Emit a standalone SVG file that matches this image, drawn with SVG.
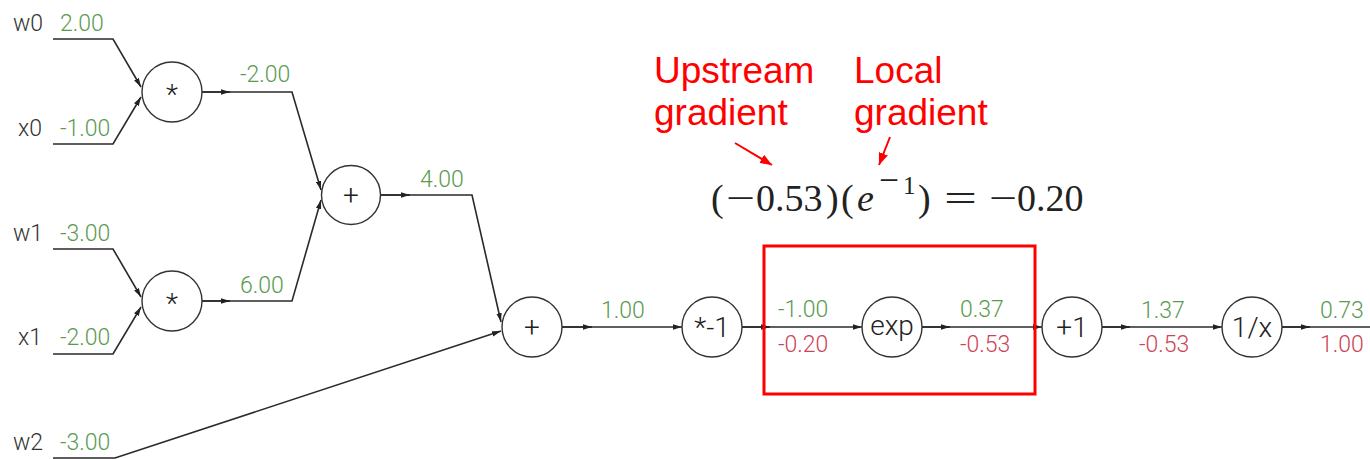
<svg xmlns="http://www.w3.org/2000/svg" width="1370" height="459" viewBox="0 0 1370 459">
<style>
.edge{fill:none;stroke:#2a2a2a;stroke-width:1.6}
.node circle{fill:#fff;stroke:#333;stroke-width:1.4}
.op{font-family:Roboto,"Liberation Sans",sans-serif;font-weight:300;font-size:28px;fill:#222;text-anchor:middle}
.lbl{font-family:Roboto,"Liberation Sans",sans-serif;font-weight:300;font-size:23px}
.val{fill:#5a9a50}
.grad{fill:#cc4455}
.name{fill:#333}
.ann{font-family:"Liberation Sans",Arial,sans-serif;font-size:37px;fill:#ff0000}
.math{font-family:"Liberation Serif","Times New Roman",serif;font-size:38px;fill:#222}
</style>
<defs>
<marker id="ah" viewBox="0 0 10 6" refX="10" refY="3" markerWidth="9" markerHeight="6" markerUnits="userSpaceOnUse" orient="auto"><path d="M0,0L10,3L0,6z" fill="#222"/></marker>
<marker id="rah" viewBox="0 0 10 8" refX="10" refY="4" markerWidth="12" markerHeight="10" markerUnits="userSpaceOnUse" orient="auto"><path d="M0,0L10,4L0,8z" fill="#ff0000"/></marker>
</defs>
<rect width="1370" height="459" fill="#fff"/>
<g id="connectors">
<path class="edge" d="M53,39H113L141,87" marker-end="url(#ah)"/>
<path class="edge" d="M53,144H113L141,97" marker-end="url(#ah)"/>
<path class="edge" d="M202,92H292L321,190" marker-end="url(#ah)"/>
<path class="edge" d="M202,92H230" marker-end="url(#ah)"/>
<path class="edge" d="M53,249H113L141,297" marker-end="url(#ah)"/>
<path class="edge" d="M53,354H113L141,307" marker-end="url(#ah)"/>
<path class="edge" d="M202,301H292L321,200" marker-end="url(#ah)"/>
<path class="edge" d="M202,301H230" marker-end="url(#ah)"/>
<path class="edge" d="M380,195H472L501,322" marker-end="url(#ah)"/>
<path class="edge" d="M380,195H410" marker-end="url(#ah)"/>
<path class="edge" d="M53,458H115L501,331" marker-end="url(#ah)"/>
<path class="edge" d="M562,327H682" marker-end="url(#ah)"/>
<path class="edge" d="M562,327H592" marker-end="url(#ah)"/>
<path class="edge" d="M742,327H862" marker-end="url(#ah)"/>
<path class="edge" d="M742,327H770" marker-end="url(#ah)"/>
<path class="edge" d="M922,327H1042" marker-end="url(#ah)"/>
<path class="edge" d="M922,327H950" marker-end="url(#ah)"/>
<path class="edge" d="M1102,327H1222" marker-end="url(#ah)"/>
<path class="edge" d="M1102,327H1130" marker-end="url(#ah)"/>
<path class="edge" d="M1282,327H1370"/>
<path class="edge" d="M1282,327H1310" marker-end="url(#ah)"/>
</g>
<g id="inputs">
<text class="lbl name" x="13" y="31">w0</text><text class="lbl val" x="60" y="31">2.00</text>
<text class="lbl name" x="18" y="136">x0</text><text class="lbl val" x="60" y="136">-1.00</text>
<text class="lbl name" x="13" y="241">w1</text><text class="lbl val" x="60" y="241">-3.00</text>
<text class="lbl name" x="18" y="345">x1</text><text class="lbl val" x="60" y="345">-2.00</text>
<text class="lbl name" x="13" y="450">w2</text><text class="lbl val" x="60" y="450">-3.00</text>
</g>
<g id="edge-labels">
<text class="lbl val" x="240" y="82">-2.00</text>
<text class="lbl val" x="240" y="293">6.00</text>
<text class="lbl val" x="420" y="187">4.00</text>
<text class="lbl val" x="601" y="318">1.00</text>
<text class="lbl val" x="778" y="317">-1.00</text>
<text class="lbl grad" x="778" y="352">-0.20</text>
<text class="lbl val" x="960" y="317">0.37</text>
<text class="lbl grad" x="960" y="352">-0.53</text>
<text class="lbl val" x="1141" y="318">1.37</text>
<text class="lbl grad" x="1139" y="352">-0.53</text>
<text class="lbl val" x="1320" y="318">0.73</text>
<text class="lbl grad" x="1320" y="352">1.00</text>
</g>
<g id="n-mul0" class="node"><circle cx="172" cy="92" r="30"/><text class="op" x="172" y="104">*</text></g>
<g id="n-mul1" class="node"><circle cx="172" cy="301" r="30"/><text class="op" x="172" y="313">*</text></g>
<g id="n-add0" class="node"><circle cx="351" cy="195" r="29.5"/><text class="op" x="351" y="205">+</text></g>
<g id="n-add1" class="node"><circle cx="532" cy="327" r="30"/><text class="op" x="532" y="337">+</text></g>
<g id="n-neg" class="node"><circle cx="712" cy="327" r="30"/><text class="op" x="712" y="337">*-1</text></g>
<g id="n-exp" class="node"><circle cx="892" cy="327" r="30"/><text class="op" x="892" y="335">exp</text></g>
<g id="n-add2" class="node"><circle cx="1072" cy="327" r="30"/><text class="op" x="1072" y="337">+1</text></g>
<g id="n-inv" class="node"><circle cx="1252" cy="327" r="30"/><text class="op" x="1252" y="337">1/x</text></g>
<g id="highlight">
<rect x="764" y="246" width="271" height="148" fill="none" stroke="#ff0000" stroke-width="3"/>
</g>
<g id="annotations">
<text class="ann" x="654" y="83">Upstream</text>
<text class="ann" x="654" y="125">gradient</text>
<text class="ann" x="854" y="83">Local</text>
<text class="ann" x="854" y="125">gradient</text>
<path d="M735,143L772,165" stroke="#ff0000" stroke-width="2" fill="none" marker-end="url(#rah)"/>
<path d="M890,137L879,165" stroke="#ff0000" stroke-width="2" fill="none" marker-end="url(#rah)"/>
</g>
<g id="formula">
<text class="math" y="211"><tspan x="711">(</tspan><tspan x="756">0.53</tspan><tspan x="826">)</tspan><tspan x="841">(</tspan><tspan x="857" font-style="italic">e</tspan><tspan x="903" y="194" font-size="25">1</tspan><tspan x="918" y="211">)</tspan><tspan x="1017">0.20</tspan></text>
<text class="math" x="726" y="211" textLength="29" lengthAdjust="spacingAndGlyphs">−</text>
<text class="math" x="879" y="193" font-size="25" textLength="20" lengthAdjust="spacingAndGlyphs">−</text>
<text class="math" x="944" y="211" textLength="33" lengthAdjust="spacingAndGlyphs">=</text>
<text class="math" x="989" y="211" textLength="28" lengthAdjust="spacingAndGlyphs">−</text>
</g>
</svg>
